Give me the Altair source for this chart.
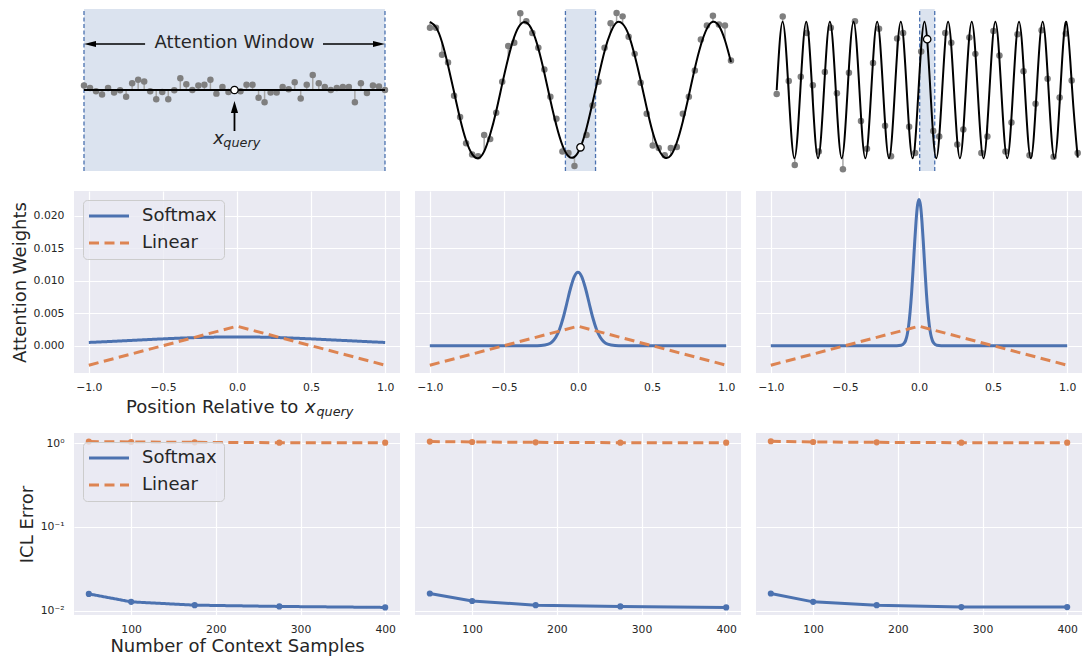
import altair as alt
import pandas as pd

FONT = "DejaVu Sans"
TXT = "#262626"
BLUE = "#4c72b0"
ORANGE = "#dd8452"
BG = "#eaeaf2"
PT_GRAY = "#7f7f7f"
STEM_GRAY = "#a6a6a6"
METHODS = ["Softmax", "Linear"]
DASH = [10, 5.5]

W = 326
H_TOP = 122
H = 182

# ---------------- top row: context samples ----------------
CTX_X = [0.00, 0.02, 0.04, 0.06, 0.08, 0.10, 0.12, 0.14, 0.16, 0.18,
         0.20, 0.22, 0.24, 0.26, 0.28, 0.30, 0.32, 0.34, 0.36, 0.38,
         0.40, 0.42, 0.44, 0.46, 0.48, 0.52, 0.54, 0.56, 0.58, 0.60,
         0.62, 0.64, 0.66, 0.68, 0.70, 0.72, 0.74, 0.76, 0.78, 0.80,
         0.82, 0.84, 0.86, 0.88, 0.90, 0.92, 0.94, 0.96, 0.98, 1.00]

POINTS_1 = [0.067, 0.029, -0.019, -0.067, 0.029, -0.038, -0.005, -0.100, 0.100, 0.149,
            0.125, -0.019, -0.134, -0.029, -0.134, -0.005, 0.173, 0.086, 0.000, 0.067,
            0.077, 0.149, -0.053, 0.043, -0.029, -0.019, 0.077, 0.077, -0.115, -0.180,
            -0.038, -0.038, 0.043, 0.010, 0.115, -0.125, 0.077, 0.220, 0.100, 0.043,
            0.000, 0.029, 0.043, 0.043, -0.180, 0.100, -0.043, 0.067, 0.053, 0.000]
BASE_1 = [0.0] * 50

POINTS_2 = [0.914, 0.914, 0.516, 0.405, -0.084, -0.396, -0.780, -0.947, -0.970, -0.660,
            -0.720, -0.333, 0.122, 0.645, 0.693, 1.125, 1.010, 0.837, 0.621, 0.300,
            -0.098, -0.420, -0.900, -0.923, -1.115, -0.660, -0.228, 0.122, 0.621, 0.980,
            1.130, 1.080, 0.780, 0.530, 0.108, -0.348, -0.813, -0.850, -0.957, -0.850,
            -0.837, -0.348, -0.098, 0.285, 0.741, 0.947, 1.090, 0.960, 0.947, 0.434]
BASE_2 = [1.00, 0.92, 0.70, 0.36, -0.03, -0.42, -0.74, -0.94, -1.00, -0.90,
          -0.65, -0.31, 0.09, 0.47, 0.78, 0.96, 0.99, 0.87, 0.61, 0.25,
          -0.15, -0.52, -0.81, -0.97, -0.98, -0.56, -0.19, 0.20, 0.57, 0.84,
          0.99, 0.97, 0.81, 0.51, 0.14, -0.26, -0.62, -0.87, -0.99, -0.96,
          -0.77, -0.46, -0.08, 0.32, 0.66, 0.90, 1.00, 0.94, 0.73, 0.41]

POINTS_3 = [-0.060, 1.077, 0.132, -1.100, 0.194, 0.837, 0.070, -0.900, 0.266, 0.914,
            -0.046, -1.163, 0.252, 1.010, -0.453, -0.860, 0.396, 0.900, -0.525, -0.970,
            0.755, 0.837, -0.540, -0.923, 0.564, -0.600, -0.683, 0.837, 0.693, -0.800,
            -0.578, 0.770, 0.530, -0.923, -0.683, 0.866, 0.506, -0.900, -0.477, 0.818,
            0.276, -0.957, -0.200, 0.875, 0.165, -0.980, -0.108, 0.827, 0.141, -0.923]
BASE_3 = [0.00, 1.00, -0.06, -1.00, 0.12, 0.99, -0.17, -0.98, 0.23, 0.97,
          -0.29, -0.95, 0.34, 0.93, -0.40, -0.91, 0.45, 0.88, -0.50, -0.85,
          0.55, 0.82, -0.60, -0.78, 0.64, -0.69, -0.71, 0.73, 0.67, -0.77,
          -0.62, 0.80, 0.58, -0.84, -0.52, 0.87, 0.47, -0.89, -0.42, 0.92,
          0.36, -0.94, -0.31, 0.96, 0.25, -0.98, -0.20, 0.99, 0.14, -0.99]

# black target curves (knots)
CURVE1_X = [0.0, 1.0]
CURVE1_Y = [0.0, 0.0]
CURVE3_X = [0.0000, 0.0196, 0.0393, 0.0589, 0.0785, 0.0982, 0.1178, 0.1374, 0.1571, 0.1767,
            0.1963, 0.2160, 0.2356, 0.2553, 0.2749, 0.2945, 0.3142, 0.3338, 0.3534, 0.3731,
            0.3927, 0.4123, 0.4320, 0.4516, 0.4712, 0.4909, 0.5105, 0.5301, 0.5498, 0.5694,
            0.5890, 0.6087, 0.6283, 0.6480, 0.6676, 0.6872, 0.7069, 0.7265, 0.7461, 0.7658,
            0.7854, 0.8050, 0.8247, 0.8443, 0.8639, 0.8836, 0.9032, 0.9228, 0.9425, 0.9621,
            0.9817, 1.0000]
CURVE3_Y = [0, 1, 0, -1, 0, 1, 0, -1, 0, 1, 0, -1, 0, 1, 0, -1, 0, 1, 0, -1,
            0, 1, 0, -1, 0, 1, 0, -1, 0, 1, 0, -1, 0, 1, 0, -1, 0, 1, 0, -1,
            0, 1, 0, -1, 0, 1, 0, -1, 0, 1, 0, -0.99]

QUERY_X = 0.5
QUERY_Y = [0.0, -0.84, 0.745]
WINDOWS = [(0.0, 1.0), (0.45, 0.55), (0.475, 0.525)]

TOP_X_DOMAINS = [[-0.0332, 1.0499], [-0.0498, 1.0333], [-0.0688, 1.0143]]
TOP_Y_DOMAIN = [-0.601, 1.188]
SHADE_Y = [-1.187, 1.188]

# ---------------- middle row: attention weights ----------------
SM_X = [
    [-1.0, -0.875, -0.75, -0.625, -0.5, -0.375, -0.25, -0.125, 0.0,
     0.125, 0.25, 0.375, 0.5, 0.625, 0.75, 0.875, 1.0],
    [-1.0, -0.5, -0.3, -0.25, -0.2, -0.175, -0.15, -0.125, -0.1, -0.075, -0.05, -0.025, 0.0,
     0.025, 0.05, 0.075, 0.1, 0.125, 0.15, 0.175, 0.2, 0.25, 0.3, 0.5, 1.0],
    [-1.0, -0.5, -0.15, -0.12, -0.1, -0.09, -0.08, -0.07, -0.06, -0.05, -0.04, -0.03, -0.02, -0.01, 0.0,
     0.01, 0.02, 0.03, 0.04, 0.05, 0.06, 0.07, 0.08, 0.09, 0.1, 0.12, 0.15, 0.5, 1.0],
]
SM_Y = [
    [0.00050, 0.00063, 0.00077, 0.00091, 0.00105, 0.00117, 0.00127, 0.00133, 0.00135,
     0.00133, 0.00127, 0.00117, 0.00105, 0.00091, 0.00077, 0.00063, 0.00050],
    [0.0, 0.0, 0.0, 0.00003, 0.00024, 0.00059, 0.00129, 0.0025, 0.0043, 0.00657, 0.00888, 0.01064, 0.0113,
     0.01064, 0.00888, 0.00657, 0.0043, 0.0025, 0.00129, 0.00059, 0.00024, 0.00003, 0.0, 0.0, 0.0],
    [0.0, 0.0, 0.0, 0.00006, 0.00038, 0.00082, 0.00165, 0.00305, 0.0052, 0.0081, 0.0117, 0.0156, 0.0191, 0.0216, 0.0225,
     0.0216, 0.0191, 0.0156, 0.0117, 0.0081, 0.0052, 0.00305, 0.00165, 0.00082, 0.00038, 0.00006, 0.0, 0.0, 0.0],
]
LIN_X = [-1.0, 0.0, 1.0]
LIN_Y = [-0.003, 0.003, -0.003]
POS_TICKS = [-1.0, -0.5, 0.0, 0.5, 1.0]
W_TICKS = [0.0, 0.005, 0.010, 0.015, 0.020]

# ---------------- bottom row: ICL error ----------------
N_CTX = [50, 100, 175, 275, 400]
SM_ERR = [[0.0158, 0.0127, 0.0116, 0.0112, 0.0109],
          [0.0160, 0.0130, 0.0116, 0.0112, 0.0109],
          [0.0160, 0.0127, 0.0116, 0.0110, 0.0110]]
LIN_ERR = [[1.04, 1.03, 1.02, 1.01, 1.01],
           [1.04, 1.03, 1.02, 1.01, 1.01],
           [1.05, 1.03, 1.02, 1.01, 1.01]]
N_TICKS = [100, 200, 300, 400]
ERR_TICKS = [0.01, 0.1, 1.0]


def sc(domain, **kw):
    return alt.Scale(domain=domain, nice=False, zero=False, **kw)


LEG = alt.Legend(title=None, orient="top-left", offset=9, padding=7,
                 fillColor="rgba(234,234,242,0.8)", strokeColor="#cccccc", cornerRadius=4,
                 labelFont=FONT, labelFontSize=18, labelColor=TXT,
                 symbolType="M-4,0L4,0", symbolSize=100, symbolStrokeWidth=3,
                 symbolOffset=10, labelOffset=24, rowPadding=9)


def top_panel(k):
    xs = sc(TOP_X_DOMAINS[k])
    ys = sc(TOP_Y_DOMAIN)

    def X(f):
        return alt.X(f"{f}:Q", scale=xs, axis=None)

    def Y(f):
        return alt.Y(f"{f}:Q", scale=ys, axis=None)

    pts = [POINTS_1, POINTS_2, POINTS_3][k]
    base = [BASE_1, BASE_2, BASE_3][k]
    if k == 0:
        cx, cy = CURVE1_X, CURVE1_Y
    elif k == 1:
        pairs = sorted(zip(CTX_X + [QUERY_X], BASE_2 + [QUERY_Y[1]]))
        cx, cy = [p[0] for p in pairs], [p[1] for p in pairs]
    else:
        cx, cy = CURVE3_X, CURVE3_Y
    w0, w1 = WINDOWS[k]
    shade_df = pd.DataFrame({"a": [w0], "b": [w1], "lo": [SHADE_Y[0]], "hi": [SHADE_Y[1]]})
    edge_df = pd.DataFrame({"x": [w0, w1], "lo": [SHADE_Y[0]] * 2, "hi": [SHADE_Y[1]] * 2})
    ctx_df = pd.DataFrame({"x": CTX_X, "y": pts, "base": base})
    curve_df = pd.DataFrame({"x": cx, "y": cy})
    q_df = pd.DataFrame({"x": [QUERY_X], "y": [QUERY_Y[k]]})

    layers = [
        alt.Chart(shade_df).mark_rect(color=BLUE, opacity=0.2).encode(
            x=X("a"), x2="b", y=Y("lo"), y2="hi"),
        alt.Chart(edge_df).mark_rule(color=BLUE, strokeDash=[4, 2.5], strokeWidth=1.3).encode(
            x=X("x"), y=Y("lo"), y2="hi"),
        alt.Chart(ctx_df).mark_rule(color=STEM_GRAY, strokeWidth=1.5).encode(
            x=X("x"), y=Y("y"), y2="base"),
        alt.Chart(ctx_df).mark_circle(color=PT_GRAY, size=42, opacity=1).encode(
            x=X("x"), y=Y("y")),
        alt.Chart(curve_df).mark_line(color="black", strokeWidth=2, interpolate="natural").encode(
            x=X("x"), y=Y("y")),
        alt.Chart(q_df).mark_point(shape="circle", filled=True, fill="white", stroke="black",
                                   strokeWidth=1.3, size=55, opacity=1).encode(x=X("x"), y=Y("y")),
    ]
    if k == 0:
        title_df = pd.DataFrame({"x": [0.5], "y": [0.69], "t": ["Attention Window"]})
        arrow_df = pd.DataFrame({"x": [0.203, 0.794], "x2": [0.02, 0.98], "y": [0.675, 0.675]})
        headl_df = pd.DataFrame({"x": [0.0], "y": [0.675]})
        headr_df = pd.DataFrame({"x": [1.0], "y": [0.675]})
        qarrow_df = pd.DataFrame({"x": [0.5], "y": [-0.601], "y2": [-0.25]})
        qhead_df = pd.DataFrame({"x": [0.5], "y": [-0.161]})
        xlab_df = pd.DataFrame({"x": [0.4296], "y": [-0.796], "t": ["x"]})
        sub_df = pd.DataFrame({"x": [0.4628], "y": [-0.831], "t": ["query"]})
        layers += [
            alt.Chart(title_df).mark_text(font=FONT, fontSize=18, color=TXT, align="center",
                                          baseline="middle").encode(x=X("x"), y=Y("y"), text="t:N"),
            alt.Chart(arrow_df).mark_rule(color="black", strokeWidth=1.6).encode(
                x=X("x"), x2="x2", y=Y("y")),
            alt.Chart(headl_df).mark_point(shape="M0,0L1,-0.25L1,0.25Z", filled=True, color="black",
                                           size=576, opacity=1).encode(x=X("x"), y=Y("y")),
            alt.Chart(headr_df).mark_point(shape="M0,0L-1,-0.25L-1,0.25Z", filled=True, color="black",
                                           size=576, opacity=1).encode(x=X("x"), y=Y("y")),
            alt.Chart(qarrow_df).mark_rule(color="black", strokeWidth=1.8).encode(
                x=X("x"), y=Y("y"), y2="y2"),
            alt.Chart(qhead_df).mark_point(shape="M0,0L-0.3,1L0.3,1Z", filled=True, color="black",
                                           size=576, opacity=1).encode(x=X("x"), y=Y("y")),
            alt.Chart(xlab_df).mark_text(font=FONT, fontSize=18, fontStyle="italic", color=TXT,
                                         align="left", baseline="alphabetic").encode(
                x=X("x"), y=Y("y"), text="t:N"),
            alt.Chart(sub_df).mark_text(font=FONT, fontSize=12.8, fontStyle="italic", color=TXT,
                                        align="left", baseline="alphabetic").encode(
                x=X("x"), y=Y("y"), text="t:N"),
        ]
    return alt.layer(*layers).properties(width=W, height=H_TOP)


def mid_panel(k):
    xs = sc([-1.1, 1.1])
    ys = sc([-0.0042, 0.0238])
    xax = alt.Axis(values=POS_TICKS, format=".1f", title=None, grid=True, labelPadding=8.5,
                   labelFlush=False)
    if k == 0:
        yax = alt.Axis(values=W_TICKS, format=".3f", title="Attention Weights", grid=True,
                       labelPadding=10, titlePadding=4)
    else:
        yax = alt.Axis(values=W_TICKS, labels=False, title=None, grid=True)
    X = alt.X("x:Q", scale=xs, axis=xax)
    Y = alt.Y("y:Q", scale=ys, axis=yax)
    sm = pd.DataFrame({"x": SM_X[k], "y": SM_Y[k], "method": "Softmax"})
    ln = pd.DataFrame({"x": LIN_X, "y": LIN_Y, "method": "Linear"})
    if k == 0:
        col = alt.Color("method:N", scale=alt.Scale(domain=METHODS, range=[BLUE, ORANGE]), legend=LEG)
        dash = alt.StrokeDash("method:N", scale=alt.Scale(domain=METHODS, range=[[1, 0], DASH]),
                              legend=LEG)
        l1 = alt.Chart(sm).mark_line(strokeWidth=3, interpolate="monotone").encode(
            x=X, y=Y, color=col, strokeDash=dash)
        l2 = alt.Chart(ln).mark_line(strokeWidth=3).encode(x=X, y=Y, color=col, strokeDash=dash)
        t1 = pd.DataFrame({"t": ["Position Relative to"]})
        t2 = pd.DataFrame({"t": ["x"]})
        t3 = pd.DataFrame({"t": ["query"]})
        layers = [
            l1, l2,
            alt.Chart(t1).mark_text(font=FONT, fontSize=18, color=TXT, align="right",
                                    baseline="alphabetic").encode(
                x=alt.value(224.3), y=alt.value(222), text="t:N"),
            alt.Chart(t2).mark_text(font=FONT, fontSize=18, fontStyle="italic", color=TXT,
                                    align="left", baseline="alphabetic").encode(
                x=alt.value(231), y=alt.value(222), text="t:N"),
            alt.Chart(t3).mark_text(font=FONT, fontSize=12.8, fontStyle="italic", color=TXT,
                                    align="left", baseline="alphabetic").encode(
                x=alt.value(242.5), y=alt.value(224.7), text="t:N"),
        ]
    else:
        l1 = alt.Chart(sm).mark_line(strokeWidth=3, interpolate="monotone", color=BLUE).encode(x=X, y=Y)
        l2 = alt.Chart(ln).mark_line(strokeWidth=3, color=ORANGE, strokeDash=DASH).encode(x=X, y=Y)
        layers = [l1, l2]
    return alt.layer(*layers).properties(
        width=W, height=H, view=alt.ViewBackground(fill=BG, strokeWidth=0))


def bot_panel(k):
    xs = sc([32.5, 417.5])
    ys = alt.Scale(type="log", domain=[0.00885, 1.318], nice=False)
    lab = ("datum.value > 0.5 ? '10\u2070' : (datum.value > 0.05 ? '10\u207b\u00b9' : '10\u207b\u00b2')")
    if k == 0:
        xax = alt.Axis(values=N_TICKS, format="d", title="Number of Context Samples", grid=True,
                       labelPadding=8.5, titlePadding=3, labelFlush=False)
        yax = alt.Axis(values=ERR_TICKS, labelExpr=lab, title="ICL Error", grid=True,
                       labelPadding=10, titlePadding=4)
    else:
        xax = alt.Axis(values=N_TICKS, format="d", title=None, grid=True, labelPadding=8.5,
                       labelFlush=False)
        yax = alt.Axis(values=ERR_TICKS, labels=False, title=None, grid=True)
    X = alt.X("n:Q", scale=xs, axis=xax)
    Y = alt.Y("err:Q", scale=ys, axis=yax)
    sm = pd.DataFrame({"n": N_CTX, "err": SM_ERR[k], "method": "Softmax"})
    ln = pd.DataFrame({"n": N_CTX, "err": LIN_ERR[k], "method": "Linear"})
    if k == 0:
        col = alt.Color("method:N", scale=alt.Scale(domain=METHODS, range=[BLUE, ORANGE]), legend=LEG)
        dash = alt.StrokeDash("method:N", scale=alt.Scale(domain=METHODS, range=[[1, 0], DASH]),
                              legend=LEG)
        l1 = alt.Chart(sm).mark_line(strokeWidth=3).encode(x=X, y=Y, color=col, strokeDash=dash)
        l2 = alt.Chart(ln).mark_line(strokeWidth=3).encode(x=X, y=Y, color=col, strokeDash=dash)
    else:
        l1 = alt.Chart(sm).mark_line(strokeWidth=3, color=BLUE).encode(x=X, y=Y)
        l2 = alt.Chart(ln).mark_line(strokeWidth=3, color=ORANGE, strokeDash=DASH).encode(x=X, y=Y)
    p1 = alt.Chart(sm).mark_circle(size=38, color=BLUE, opacity=1).encode(x=X, y=Y)
    p2 = alt.Chart(ln).mark_circle(size=38, color=ORANGE, opacity=1).encode(x=X, y=Y)
    return alt.layer(l1, p1, l2, p2).properties(
        width=W, height=H, view=alt.ViewBackground(fill=BG, strokeWidth=0))


charts = [top_panel(0), top_panel(1), top_panel(2),
          mid_panel(0), mid_panel(1), mid_panel(2),
          bot_panel(0), bot_panel(1), bot_panel(2)]

chart = alt.concat(
    *charts, columns=3, spacing={"row": 60, "column": 15}, bounds="flush", align="each"
).resolve_scale(
    color="independent", strokeDash="independent"
).configure_axis(
    domain=False, ticks=False, gridColor="white", gridWidth=1.2, gridOpacity=1,
    labelFont=FONT, labelFontSize=10.8, labelColor=TXT,
    titleFont=FONT, titleFontSize=18, titleColor=TXT, titleFontWeight="normal",
).configure_view(strokeWidth=0).properties(
    padding={"left": 3, "top": 0, "right": 0, "bottom": 0}, background="white")

chart.save("out.html", embed_options={"renderer": "svg", "actions": False})
